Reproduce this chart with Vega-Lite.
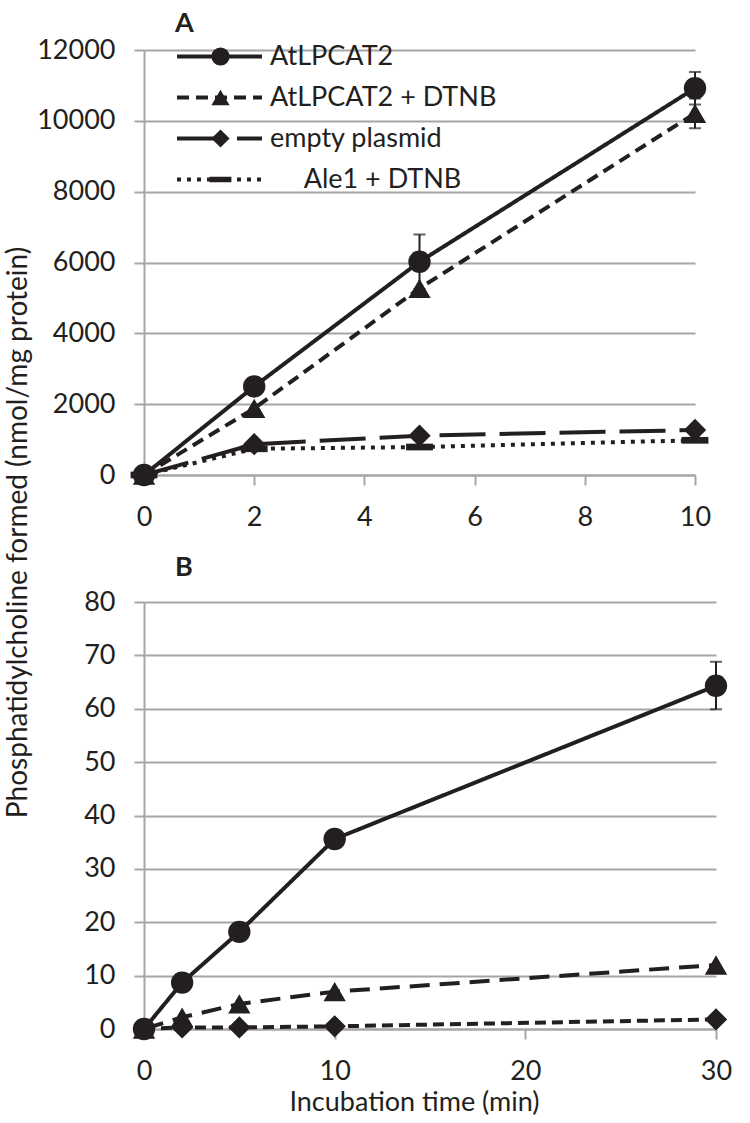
{
  "$schema": "https://vega.github.io/schema/vega-lite/v6.json",
  "background": "white",
  "padding": {"left": 4, "top": 10, "right": 5, "bottom": 5},
  "bounds": "flush",
  "spacing": 127,
  "config": {
    "view": {"stroke": null},
    "font": "Lato",
    "axis": {
      "domainColor": "#a6a6a6", "domainWidth": 2,
      "tickColor": "#a6a6a6", "tickWidth": 2, "tickSize": 10,
      "gridColor": "#a6a6a6", "gridWidth": 2,
      "labelFont": "Lato", "labelFontSize": 27, "labelColor": "#231f20",
      "titleFont": "Lato", "titleFontSize": 27, "titleFontWeight": "normal", "titleColor": "#231f20",
      "format": "d"
    },
    "axisX": {"grid": false, "labelPadding": 19, "labelFlush": false, "titlePadding": 5},
    "axisY": {"grid": true, "labelPadding": 19, "titlePadding": 4}
  },
  "datasets": {
    "a": [
      {"t": 0, "v": 0, "s": "Ale1 + DTNB"},
      {"t": 2, "v": 740, "s": "Ale1 + DTNB"},
      {"t": 5, "v": 790, "s": "Ale1 + DTNB"},
      {"t": 10, "v": 980, "s": "Ale1 + DTNB"},
      {"t": 0, "v": 0, "s": "empty plasmid"},
      {"t": 2, "v": 870, "s": "empty plasmid"},
      {"t": 5, "v": 1110, "s": "empty plasmid"},
      {"t": 10, "v": 1270, "s": "empty plasmid"},
      {"t": 0, "v": 0, "s": "AtLPCAT2 + DTNB"},
      {"t": 2, "v": 1880, "s": "AtLPCAT2 + DTNB"},
      {"t": 5, "v": 5270, "s": "AtLPCAT2 + DTNB"},
      {"t": 10, "v": 10210, "s": "AtLPCAT2 + DTNB"},
      {"t": 0, "v": 0, "s": "AtLPCAT2"},
      {"t": 2, "v": 2500, "s": "AtLPCAT2"},
      {"t": 5, "v": 6020, "s": "AtLPCAT2"},
      {"t": 10, "v": 10920, "s": "AtLPCAT2"}
    ],
    "aerr": [
      {"t": 5, "lo": 5250, "hi": 6790},
      {"t": 10, "lo": 10460, "hi": 11380},
      {"t": 10, "lo": 9790, "hi": 10630}
    ],
    "b": [
      {"t": 0, "v": 0, "s": "empty plasmid"},
      {"t": 2, "v": 0.3, "s": "empty plasmid"},
      {"t": 5, "v": 0.3, "s": "empty plasmid"},
      {"t": 10, "v": 0.5, "s": "empty plasmid"},
      {"t": 30, "v": 1.8, "s": "empty plasmid"},
      {"t": 0, "v": 0, "s": "AtLPCAT2 + DTNB"},
      {"t": 2, "v": 2.2, "s": "AtLPCAT2 + DTNB"},
      {"t": 5, "v": 4.7, "s": "AtLPCAT2 + DTNB"},
      {"t": 10, "v": 7.0, "s": "AtLPCAT2 + DTNB"},
      {"t": 30, "v": 12.0, "s": "AtLPCAT2 + DTNB"},
      {"t": 0, "v": 0, "s": "AtLPCAT2"},
      {"t": 2, "v": 8.7, "s": "AtLPCAT2"},
      {"t": 5, "v": 18.2, "s": "AtLPCAT2"},
      {"t": 10, "v": 35.6, "s": "AtLPCAT2"},
      {"t": 30, "v": 64.3, "s": "AtLPCAT2"}
    ],
    "berr": [
      {"t": 30, "lo": 59.9, "hi": 68.8}
    ]
  },
  "resolve": {
    "scale": {"x": "independent", "y": "independent", "strokeDash": "independent", "shape": "independent"},
    "legend": {"strokeDash": "independent", "shape": "independent"}
  },
  "vconcat": [
    {
      "title": {"text": "A", "anchor": "start", "frame": "group", "dx": 31, "offset": -2, "fontSize": 27, "fontWeight": "bold", "font": "Lato", "color": "#231f20"},
      "width": 551,
      "height": 425,
      "layer": [
        {
          "data": {"name": "aerr"},
          "mark": {"type": "errorbar", "color": "#231f20", "thickness": 2, "ticks": {"size": 12, "thickness": 2}},
          "encoding": {
            "x": {"field": "t", "type": "quantitative", "scale": {"domain": [0, 10], "nice": false}, "axis": {"values": [0, 2, 4, 6, 8, 10]}, "title": null},
            "y": {"field": "lo", "type": "quantitative", "scale": {"domain": [0, 12000], "nice": false}, "axis": {"values": [0, 2000, 4000, 6000, 8000, 10000, 12000], "titleY": 482, "titleFontSize": 28}, "title": "Phosphatidylcholine formed (nmol/mg protein)"},
            "y2": {"field": "hi"}
          }
        },
        {
          "data": {"name": "a"},
          "mark": {"type": "line", "strokeWidth": 4, "color": "#231f20"},
          "encoding": {
            "x": {"field": "t", "type": "quantitative", "title": null},
            "y": {"field": "v", "type": "quantitative", "title": "Phosphatidylcholine formed (nmol/mg protein)"},
            "strokeDash": {
              "field": "s", "type": "nominal",
              "sort": ["AtLPCAT2", "AtLPCAT2 + DTNB", "empty plasmid", "Ale1 + DTNB"],
              "scale": {"range": [[1, 0], [12, 7], [46, 14], [4, 6]]},
              "legend": {
                "orient": "none", "legendX": 31, "legendY": -7, "title": null, "padding": 0,
                "symbolType": "stroke", "symbolSize": 7225, "symbolStrokeWidth": 4, "symbolStrokeColor": "#231f20",
                "labelFont": "Lato", "labelFontSize": 27, "labelColor": "#231f20", "labelOffset": 6, "rowPadding": 13,
                "labelLimit": 0, "clipHeight": 27,
                "labelExpr": "indexof(datum.label, 'Ale1') >= 0 ? '\u200b\u00a0\u00a0\u00a0\u00a0\u00a0' + datum.label : datum.label"
              }
            }
          }
        },
        {
          "data": {"name": "a"},
          "mark": {"type": "point", "filled": true, "size": 500, "color": "#231f20", "opacity": 1, "strokeWidth": 0},
          "encoding": {
            "x": {"field": "t", "type": "quantitative", "title": null},
            "y": {"field": "v", "type": "quantitative", "title": "Phosphatidylcholine formed (nmol/mg protein)"},
            "shape": {
              "field": "s", "type": "nominal",
              "scale": {"domain": ["AtLPCAT2", "AtLPCAT2 + DTNB", "empty plasmid", "Ale1 + DTNB"], "range": ["circle", "triangle-up", "diamond", "M-1.2,-0.3H1.2V0.3H-1.2Z"]},
              "legend": {
                "orient": "none", "legendX": 63, "legendY": -7, "title": null, "padding": 0,
                "symbolSize": 330, "symbolFillColor": "#231f20", "symbolStrokeWidth": 0, "symbolOpacity": 1,
                "labelFont": "Lato", "labelFontSize": 27, "labelOpacity": 0, "labelOffset": 6, "rowPadding": 13,
                "labelLimit": 0, "clipHeight": 27
              }
            }
          }
        }
      ]
    },
    {
      "title": {"text": "B", "anchor": "start", "frame": "group", "dx": 31, "offset": 6, "fontSize": 27, "fontWeight": "bold", "font": "Lato", "color": "#231f20"},
      "width": 572,
      "height": 427,
      "layer": [
        {
          "data": {"name": "berr"},
          "mark": {"type": "errorbar", "color": "#231f20", "thickness": 2, "ticks": {"size": 12, "thickness": 2}},
          "encoding": {
            "x": {"field": "t", "type": "quantitative", "scale": {"domain": [0, 30], "nice": false}, "axis": {"values": [0, 10, 20, 30], "titleX": 270}, "title": "Incubation time (min)"},
            "y": {"field": "lo", "type": "quantitative", "scale": {"domain": [0, 80], "nice": false}, "axis": {"values": [0, 10, 20, 30, 40, 50, 60, 70, 80]}, "title": null},
            "y2": {"field": "hi"}
          }
        },
        {
          "data": {"name": "b"},
          "mark": {"type": "line", "strokeWidth": 4, "color": "#231f20"},
          "encoding": {
            "x": {"field": "t", "type": "quantitative", "title": "Incubation time (min)"},
            "y": {"field": "v", "type": "quantitative", "title": null},
            "strokeDash": {
              "field": "s", "type": "nominal",
              "scale": {"domain": ["AtLPCAT2", "AtLPCAT2 + DTNB", "empty plasmid"], "range": [[1, 0], [20, 10], [11, 6]]},
              "legend": null
            }
          }
        },
        {
          "data": {"name": "b"},
          "mark": {"type": "point", "filled": true, "size": 500, "color": "#231f20", "opacity": 1, "strokeWidth": 0},
          "encoding": {
            "x": {"field": "t", "type": "quantitative", "title": "Incubation time (min)"},
            "y": {"field": "v", "type": "quantitative", "title": null},
            "shape": {
              "field": "s", "type": "nominal",
              "scale": {"domain": ["AtLPCAT2", "AtLPCAT2 + DTNB", "empty plasmid"], "range": ["circle", "triangle-up", "diamond"]},
              "legend": null
            }
          }
        }
      ]
    }
  ]
}
